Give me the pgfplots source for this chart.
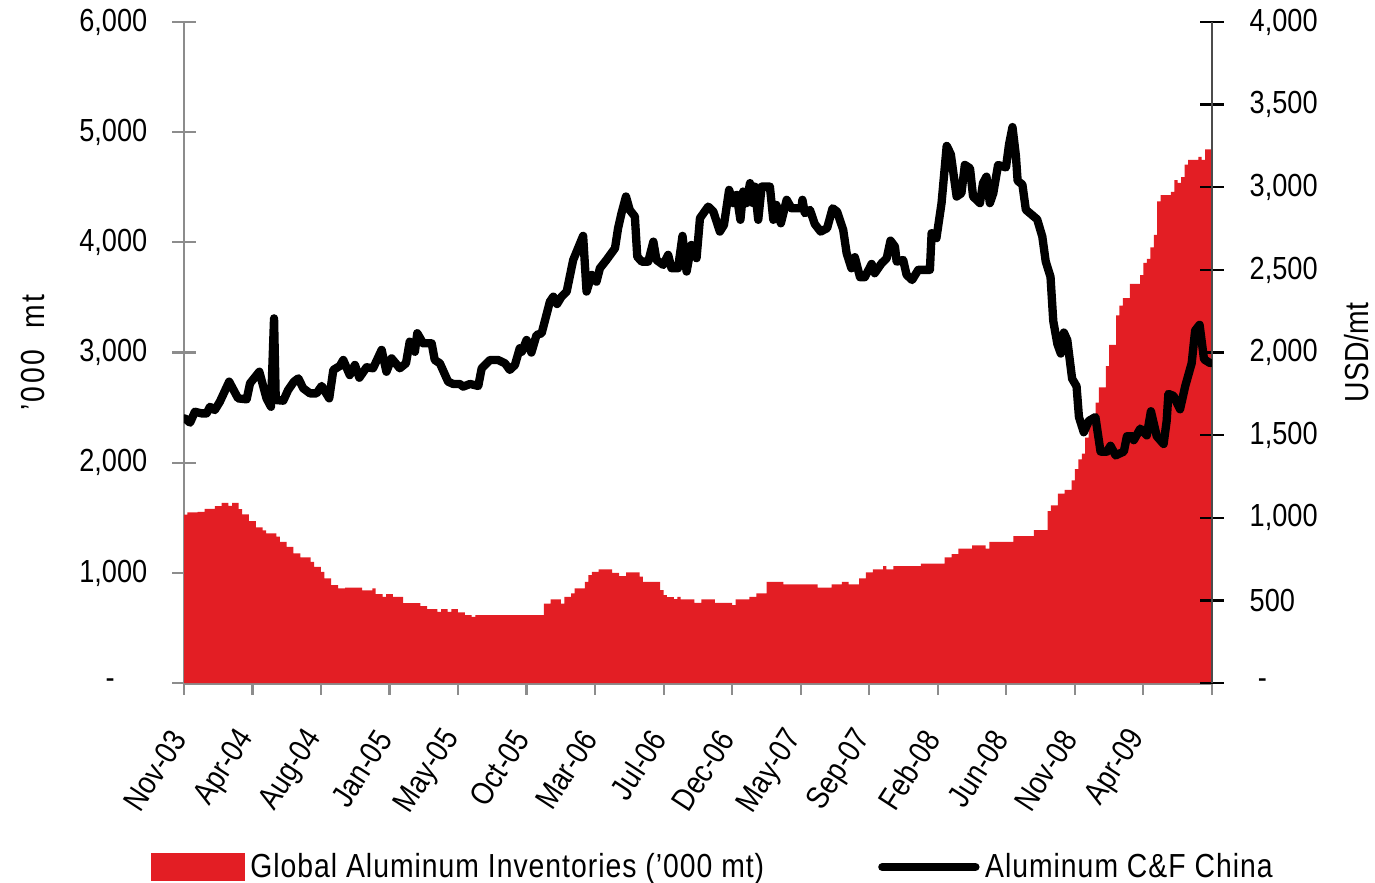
\documentclass[border=0pt]{standalone}
\usepackage{pgfplots}
\pgfplotsset{compat=1.18}
\usepackage{fontspec}
\setmainfont{Liberation Sans}[FakeStretch=0.85]
\definecolor{alured}{RGB}{227,30,36}
\definecolor{axgray}{RGB}{140,140,140}
\newcommand{\tfont}{\fontsize{11.5}{13}\selectfont}
\begin{document}
\begin{tikzpicture}
\begin{axis}[name=ax, scale only axis, width=370pt, height=238pt,
 xmin=0, xmax=300, ymin=0, ymax=6000,
 axis x line*=bottom, axis y line*=left,
 axis line style={axgray, line width=1pt},
 tick style={axgray, line width=0.8pt},
 tick align=center, major tick length=8.5pt,
 xtick={0,20,...,300},
 xticklabels={Nov-03,Apr-04,Aug-04,Jan-05,May-05,Oct-05,Mar-06,Jul-06,Dec-06,May-07,Sep-07,Feb-08,Jun-08,Nov-08,Apr-09,{}},
 xticklabel style={yshift=-11pt, rotate=57, anchor=east, font=\tfont, text=black},
 ytick={0,1000,...,6000},
 yticklabels={{\makebox[15pt][l]{-}},{1,000},{2,000},{3,000},{4,000},{5,000},{6,000}},
 yticklabel style={font=\tfont, text=black, anchor=east, xshift=-5.4pt},
 ylabel={\addfontfeature{LetterSpace=8}'000~~mt},
 ylabel style={at={(axis description cs:-0.1467,0.5)}, anchor=center, font=\fontsize{12}{14}\selectfont},
 ]
\addplot[ybar, bar width=0.94, fill=alured, draw=none] table[row sep=\\, header=false, x expr=\coordindex+0.5, y index=0] {
1530\\1550\\1550\\1550\\1555\\1555\\1582\\1582\\1582\\1607\\1607\\1637\\1637\\1610\\1637\\1637\\1580\\1531\\1531\\1470\\
1470\\1413\\1413\\1386\\1359\\1359\\1359\\1330\\1283\\1283\\1237\\1237\\1177\\1177\\1141\\1141\\1141\\1101\\1056\\1056\\
1010\\950\\950\\890\\890\\860\\860\\866\\866\\866\\866\\866\\842\\842\\842\\860\\808\\808\\784\\808\\
808\\784\\784\\784\\726\\726\\726\\726\\726\\699\\699\\672\\672\\672\\647\\672\\672\\647\\672\\672\\
642\\642\\617\\617\\602\\617\\617\\617\\617\\617\\617\\617\\617\\617\\617\\617\\617\\617\\617\\617\\
617\\617\\617\\617\\617\\723\\723\\760\\760\\760\\723\\784\\784\\814\\860\\860\\860\\920\\980\\1010\\
1010\\1032\\1032\\1032\\1032\\1002\\1002\\971\\971\\1005\\1005\\1005\\1005\\966\\920\\920\\920\\920\\920\\844\\
799\\781\\781\\763\\784\\760\\760\\760\\760\\729\\729\\760\\760\\760\\760\\729\\729\\729\\729\\729\\
708\\760\\760\\760\\760\\784\\784\\814\\814\\814\\920\\920\\920\\920\\920\\896\\896\\896\\896\\896\\
896\\896\\896\\896\\896\\868\\868\\868\\868\\896\\896\\896\\920\\920\\896\\896\\896\\950\\950\\1005\\
1005\\1032\\1032\\1032\\1062\\1032\\1032\\1062\\1062\\1062\\1062\\1062\\1062\\1062\\1062\\1086\\1086\\1086\\1086\\1086\\
1086\\1086\\1141\\1141\\1171\\1171\\1222\\1222\\1222\\1222\\1250\\1250\\1250\\1250\\1222\\1283\\1283\\1283\\1283\\1283\\
1283\\1283\\1334\\1334\\1334\\1334\\1334\\1334\\1389\\1389\\1389\\1389\\1561\\1614\\1614\\1719\\1719\\1753\\1753\\1840\\
1942\\2031\\2083\\2229\\2371\\2371\\2546\\2684\\2684\\2876\\3069\\3069\\3338\\3425\\3495\\3495\\3624\\3624\\3624\\3703\\
3815\\3850\\3954\\4069\\4372\\4428\\4428\\4428\\4458\\4564\\4540\\4592\\4706\\4748\\4748\\4748\\4776\\4748\\4843\\4843\\
};
\end{axis}
\begin{axis}[scale only axis, width=370pt, height=238pt,
 xmin=0, xmax=300, ymin=0, ymax=4000,
 axis x line=none, axis y line*=right,
 axis line style={black!70, line width=1pt},
 tick style={black, line width=0.8pt},
 tick align=center, major tick length=8.5pt,
 ytick={0,500,...,4000},
 yticklabels={{\rule{3pt}{0pt}-},{500},{1,000},{1,500},{2,000},{2,500},{3,000},{3,500},{4,000}},
 yticklabel style={font=\tfont, text=black, anchor=west, xshift=5.8pt},
 ylabel={USD/mt},
 ylabel style={at={(axis description cs:1.141,0.5)}, anchor=center, font=\fontsize{12}{14}\selectfont},
 legend style={at={(axis description cs:0.516,-0.278)}, anchor=center, draw=none, fill=none,
   legend columns=2, font=\fontsize{12}{14}\selectfont\addfontfeature{LetterSpace=3},
   /tikz/every even column/.append style={column sep=39pt}},
 ]
\addlegendimage{legend image code/.code={\fill[alured] (0pt,-5pt) rectangle (33.5pt,5pt);}}
\addlegendentry{Global Aluminum Inventories ('000 mt)}
\addplot[black, line width=3pt, line join=round, line cap=round,
 legend image code/.code={\draw[black, line width=3pt, line cap=round] (0pt,0pt) -- (33.5pt,0pt);}] coordinates {
(0.3,1602)(1.8,1576)(3.2,1642)(5.2,1632)(6.6,1632)(7.6,1672)(9.0,1652)(10.5,1703)(13.2,1824)(15.8,1723)(18.3,1717)(19.3,1814)(22.0,1884)(24.1,1723)(25.4,1672)(26.3,2207)(26.8,1713)(29.0,1709)(30.4,1773)(32.1,1824)(33.4,1844)(34.8,1784)(36.8,1753)(38.7,1753)(40.2,1798)(42.4,1723)(43.6,1895)(45.5,1919)(46.5,1955)(48.4,1864)(49.9,1925)(51.2,1848)(53.3,1911)(55.2,1905)(57.7,2016)(59.1,1884)(60.6,1965)(63.0,1905)(64.8,1935)(65.9,2066)(67.4,2005)(68.1,2117)(69.8,2056)(72.3,2056)(73.2,1955)(74.7,1935)(77.1,1824)(78.6,1810)(80.5,1810)(81.5,1794)(83.5,1810)(85.9,1798)(86.9,1905)(89.3,1955)(91.7,1955)(93.7,1935)(95.1,1895)(96.6,1925)(98.0,2026)(98.6,2005)(100.0,2076)(101.4,2000)(102.9,2106)(104.4,2117)(106.8,2308)(107.8,2338)(108.9,2294)(110.2,2338)(111.7,2369)(113.6,2560)(116.5,2706)(117.5,2369)(119.0,2470)(120.4,2429)(121.4,2510)(123.3,2560)(125.8,2631)(126.7,2752)(127.7,2843)(129.0,2944)(130.1,2863)(131.6,2823)(132.3,2580)(133.6,2550)(135.5,2550)(137.0,2671)(137.9,2560)(139.9,2530)(141.3,2591)(142.3,2510)(144.2,2510)(145.5,2706)(146.7,2490)(148.1,2651)(149.6,2571)(150.6,2813)(153.0,2883)(154.5,2853)(156.4,2732)(157.6,2772)(159.1,2984)(160.3,2904)(161.3,2954)(162.4,2803)(163.2,2974)(164.2,2904)(165.2,3025)(166.1,2904)(166.6,3004)(167.6,2803)(168.6,3004)(171.0,3004)(172.0,2803)(172.9,2893)(174.2,2782)(175.9,2924)(177.3,2873)(180.2,2873)(180.5,2924)(181.2,2843)(182.7,2863)(184.1,2778)(185.8,2732)(187.7,2752)(189.3,2873)(190.6,2853)(192.4,2742)(193.4,2601)(194.8,2510)(195.8,2577)(197.3,2456)(198.7,2456)(200.7,2536)(201.6,2480)(203.6,2540)(205.1,2571)(206.2,2677)(207.5,2641)(208.0,2550)(209.9,2560)(210.9,2470)(212.5,2439)(214.3,2500)(217.7,2500)(218.2,2722)(219.6,2692)(221.1,2904)(222.6,3250)(223.8,3200)(225.5,2944)(226.9,2964)(227.9,3135)(229.4,3115)(230.3,2944)(232.3,2904)(233.2,3025)(234.2,3064)(235.2,2904)(236.2,2964)(237.6,3135)(239.9,3120)(240.8,3260)(241.8,3364)(242.8,3190)(243.3,3039)(244.7,3016)(245.7,2864)(249.0,2806)(250.5,2702)(251.5,2551)(252.9,2458)(253.7,2191)(254.9,2052)(255.9,1994)(256.8,2121)(257.8,2075)(259.2,1842)(260.5,1796)(261.2,1610)(262.6,1518)(264.1,1587)(266.0,1610)(267.5,1401)(269.4,1401)(270.4,1436)(271.9,1378)(274.3,1401)(275.2,1494)(276.7,1494)(277.2,1470)(279.1,1540)(281.0,1499)(282.2,1645)(283.9,1494)(285.9,1447)(286.8,1587)(287.3,1750)(288.8,1738)(290.7,1657)(292.2,1796)(294.1,1936)(295.1,2133)(296.4,2168)(297.7,1959)(299.5,1936)
};
\addlegendentry{Aluminum C\&F China}
\end{axis}
\pgfresetboundingbox
\path ([xshift=-66.2pt,yshift=-71.6pt]ax.south west) rectangle ([xshift=58.7pt,yshift=7.9pt]ax.north east);
\end{tikzpicture}
\end{document}
